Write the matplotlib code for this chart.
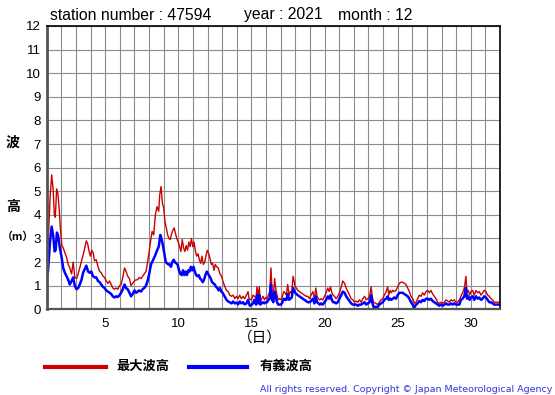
import matplotlib
matplotlib.use("Agg")
import matplotlib.pyplot as plt

# ---------------- data (day of month, metres) ----------------
max_days = [1.00, 1.09, 1.23, 1.34, 1.45, 1.52, 1.59, 1.68, 1.77, 1.86, 1.95, 2.04, 2.13, 2.24, 2.36, 2.47,
            2.58, 2.70, 2.81, 2.92, 3.04, 3.15, 3.26, 3.38, 3.49, 3.60, 3.71, 3.81, 3.90, 3.99, 4.08, 4.17,
            4.28, 4.39, 4.51, 4.62, 4.73, 4.85, 4.96, 5.07, 5.19, 5.30, 5.41, 5.52, 5.64, 5.75, 5.86, 5.98,
            6.09, 6.20, 6.32, 6.43, 6.54, 6.66, 6.77, 6.88, 7.00, 7.11, 7.22, 7.33, 7.45, 7.56, 7.67, 7.79,
            7.90, 8.01, 8.13,
            8.21, 8.32, 8.43, 8.55, 8.66, 8.73, 8.82, 8.91, 9.00, 9.09, 9.18, 9.27, 9.36, 9.45, 9.54, 9.63,
            9.72, 9.81, 9.90, 10.00, 10.09, 10.18, 10.27, 10.36, 10.45, 10.54, 10.63, 10.72, 10.81, 10.90,
            10.99, 11.08, 11.17, 11.26, 11.35, 11.44, 11.53, 11.62, 11.71, 11.81, 11.90, 11.99, 12.08, 12.17,
            12.26, 12.35, 12.44, 12.53, 12.62, 12.73, 12.85, 12.96, 13.07, 13.19, 13.30, 13.41, 13.52, 13.64,
            13.75, 13.86, 13.98, 14.09, 14.20, 14.32, 14.43, 14.54, 14.66, 14.77, 14.84, 15.00, 15.11,
            15.20, 15.32, 15.38, 15.47, 15.54, 15.61, 15.70, 15.79, 15.89, 15.98, 16.07, 16.16, 16.25, 16.34,
            16.41, 16.50, 16.59, 16.66, 16.75, 16.84, 16.94, 17.03, 17.12, 17.21, 17.30, 17.39, 17.48, 17.58,
            17.67, 17.76, 17.85, 17.92, 17.99, 18.08, 18.17, 18.28, 18.40, 18.51, 18.63, 18.74, 18.85, 18.97,
            19.08, 19.20, 19.31, 19.40, 19.49, 19.58, 19.68, 19.77, 19.88, 20.00, 20.11, 20.22, 20.32, 20.41,
            20.50, 20.59, 20.68, 20.79, 20.91, 21.02, 21.14, 21.25, 21.37, 21.48, 21.59, 21.71, 21.82, 21.94,
            22.05, 22.16, 22.28, 22.39, 22.51, 22.62, 22.74, 22.85, 22.96, 23.08, 23.19, 23.26, 23.35,
            23.52, 23.64, 23.75, 23.86, 23.98, 24.09, 24.21, 24.32, 24.39, 24.48, 24.57, 24.66, 24.77, 24.89,
            25.00, 25.12, 25.23, 25.34, 25.46, 25.57, 25.69, 25.80, 25.91, 26.03, 26.14, 26.26, 26.37, 26.48,
            26.60, 26.71, 26.82, 26.94, 27.05, 27.17, 27.28, 27.39, 27.51, 27.62, 27.74, 27.85, 27.96, 28.08,
            28.19, 28.31, 28.42, 28.53, 28.65, 28.76, 28.87, 28.99, 29.10, 29.22, 29.33, 29.44, 29.56, 29.67,
            29.74, 29.83, 29.92, 30.01, 30.13, 30.24, 30.36, 30.47, 30.58, 30.70, 30.81, 30.92, 31.04, 31.15,
            31.27, 31.38, 31.49, 31.61, 31.72, 31.93]
max_wave = [2.3, 2.7, 4.7, 5.7, 5.0, 4.0, 3.9, 5.1, 4.9, 4.2, 3.3, 2.7, 2.6, 2.4, 2.2, 1.9,
            1.75, 1.5, 2.0, 1.35, 1.3, 1.5, 1.75, 2.05, 2.3, 2.6, 2.9, 2.75, 2.45, 2.25, 2.5, 2.4,
            2.05, 2.1, 1.8, 1.6, 1.55, 1.4, 1.35, 1.2, 1.1, 1.2, 1.05, 0.9, 0.85, 0.9, 0.85, 1.0,
            1.05, 1.35, 1.75, 1.6, 1.4, 1.3, 1.0, 1.1, 1.2, 1.25, 1.25, 1.35, 1.3, 1.4, 1.5, 1.6,
            2.0, 2.45, 3.0,
            3.3, 3.15, 4.0, 4.35, 4.15, 4.85, 5.2, 4.5, 4.3, 3.7, 3.45, 3.15, 3.0, 2.95, 3.2, 3.35,
            3.45, 3.2, 3.0, 2.85, 2.65, 2.45, 2.95, 2.6, 2.45, 2.7, 2.5, 2.85, 2.65, 3.0,
            2.65, 2.85, 2.45, 2.25, 2.35, 2.1, 1.95, 2.25, 1.9, 2.0, 2.3, 2.5, 2.35, 2.15,
            1.9, 1.95, 1.65, 1.9, 1.8, 1.75, 1.5, 1.4, 1.15, 0.95, 0.8, 0.75, 0.6, 0.55,
            0.6, 0.45, 0.55, 0.45, 0.6, 0.45, 0.55, 0.45, 0.6, 0.75, 0.45, 0.4, 0.6,
            0.55, 0.45, 0.95, 0.55, 0.95, 0.3, 0.45, 0.55, 0.4, 0.5, 0.45, 0.6, 0.75, 1.75,
            0.7, 0.55, 1.3, 0.9, 0.6, 0.4, 0.45, 0.4, 0.55, 0.75, 0.7, 0.6, 1.05, 0.6,
            0.75, 0.7, 1.4, 1.2, 0.95, 0.9, 0.8, 0.75, 0.7, 0.65, 0.6, 0.55, 0.55, 0.45,
            0.6, 0.75, 0.45, 0.9, 0.55, 0.45, 0.4, 0.45, 0.4, 0.55, 0.7, 0.9, 0.75, 0.95,
            0.7, 0.6, 0.55, 0.45, 0.55, 0.7, 0.95, 1.2, 1.1, 0.9, 0.75, 0.6, 0.45, 0.4,
            0.3, 0.35, 0.3, 0.4, 0.3, 0.45, 0.55, 0.4, 0.45, 0.55, 0.95, 0.55, 0.3,
            0.25, 0.2, 0.3, 0.4, 0.45, 0.6, 0.75, 0.95, 0.6, 0.8, 0.7, 0.8, 0.75, 0.8,
            0.95, 1.1, 1.15, 1.15, 1.1, 1.05, 0.9, 0.75, 0.55, 0.45, 0.25, 0.3, 0.45, 0.6,
            0.55, 0.7, 0.6, 0.75, 0.8, 0.7, 0.8, 0.65, 0.55, 0.45, 0.3, 0.25, 0.3, 0.25,
            0.3, 0.4, 0.35, 0.3, 0.4, 0.35, 0.4, 0.3, 0.3, 0.4, 0.55, 0.7, 0.9, 1.4,
            0.7, 0.8, 0.6, 0.75, 0.8, 0.6, 0.8, 0.7, 0.75, 0.6, 0.7, 0.8, 0.75, 0.6,
            0.55, 0.45, 0.4, 0.3, 0.3, 0.3]

sig_days = [1.00, 1.09, 1.23, 1.34, 1.45, 1.54, 1.61, 1.70, 1.79, 1.90, 2.02, 2.13, 2.24, 2.36, 2.47, 2.58,
            2.70, 2.81, 2.92, 3.04, 3.15, 3.26, 3.38, 3.49, 3.60, 3.71, 3.83, 3.94, 4.05, 4.17, 4.28, 4.39,
            4.51, 4.62, 4.73, 4.85, 4.96, 5.07, 5.19, 5.30, 5.41, 5.52, 5.64, 5.75, 5.86, 5.98, 6.09, 6.20,
            6.32, 6.43, 6.54, 6.66, 6.77, 6.88, 7.00, 7.11, 7.22, 7.33, 7.45, 7.56, 7.67, 7.79, 7.90, 8.01,
            8.13,
            8.21, 8.32, 8.43, 8.55, 8.66, 8.77, 8.86, 8.95, 9.05, 9.14, 9.23, 9.32, 9.41, 9.50, 9.59, 9.68,
            9.77, 9.86, 9.95, 10.05, 10.14, 10.23, 10.32, 10.41, 10.50, 10.59, 10.68, 10.77, 10.86, 10.95,
            11.04, 11.13, 11.22, 11.31, 11.40, 11.49, 11.58, 11.67, 11.76, 11.85, 11.95, 12.04, 12.13, 12.22,
            12.31, 12.40, 12.49, 12.58, 12.67, 12.76, 12.85, 12.94, 13.03, 13.12, 13.21, 13.30, 13.41, 13.52,
            13.64, 13.75, 13.86, 13.98, 14.09, 14.20, 14.32, 14.43, 14.54, 14.66, 14.77, 14.89, 15.00, 15.11,
            15.20, 15.32, 15.38, 15.47, 15.54, 15.61, 15.70, 15.79, 15.89, 15.98, 16.07, 16.16, 16.25, 16.34,
            16.41, 16.50, 16.59, 16.66, 16.75, 16.84, 16.94, 17.03, 17.12, 17.21, 17.30, 17.39, 17.48, 17.58,
            17.67, 17.76, 17.85, 17.92, 17.99, 18.08, 18.17, 18.28, 18.40, 18.51, 18.63, 18.74, 18.85, 18.97,
            19.08, 19.20, 19.31, 19.40, 19.49, 19.58, 19.68, 19.77, 19.88, 20.00, 20.11, 20.22, 20.32, 20.41,
            20.50, 20.59, 20.68, 20.79, 20.91, 21.02, 21.14, 21.25, 21.37, 21.48, 21.59, 21.71, 21.82, 21.94,
            22.05, 22.16, 22.28, 22.39, 22.51, 22.62, 22.74, 22.85, 22.96, 23.08, 23.19, 23.26, 23.35,
            23.52, 23.64, 23.75, 23.86, 23.98, 24.09, 24.21, 24.32, 24.39, 24.48, 24.57, 24.66, 24.77, 24.89,
            25.00, 25.12, 25.23, 25.34, 25.46, 25.57, 25.69, 25.80, 25.91, 26.03, 26.14, 26.26, 26.37, 26.48,
            26.60, 26.71, 26.82, 26.94, 27.05, 27.17, 27.28, 27.39, 27.51, 27.62, 27.74, 27.85, 27.96, 28.08,
            28.19, 28.31, 28.42, 28.53, 28.65, 28.76, 28.87, 28.99, 29.10, 29.22, 29.33, 29.44, 29.56, 29.67,
            29.74, 29.83, 29.92, 30.01, 30.13, 30.24, 30.36, 30.47, 30.58, 30.70, 30.81, 30.92, 31.04, 31.15,
            31.27, 31.38, 31.49, 31.61, 31.72, 31.93]
sig_wave = [1.35, 1.6, 2.9, 3.5, 3.1, 2.45, 2.5, 3.25, 3.1, 2.6, 2.2, 1.75, 1.55, 1.4, 1.25, 1.05,
            1.2, 1.35, 1.0, 0.85, 0.9, 1.05, 1.25, 1.55, 1.7, 1.85, 1.6, 1.55, 1.6, 1.4, 1.35, 1.35,
            1.2, 1.15, 1.05, 0.95, 0.9, 0.8, 0.75, 0.7, 0.65, 0.55, 0.5, 0.55, 0.52, 0.6, 0.7, 0.85,
            1.05, 0.9, 0.85, 0.7, 0.55, 0.65, 0.8, 0.7, 0.75, 0.8, 0.75, 0.85, 0.9, 1.0, 1.2, 1.5,
            1.9,
            2.0, 2.15, 2.3, 2.5, 2.65, 3.15, 2.95, 2.7, 2.35, 2.0, 1.95, 1.9, 1.9, 1.8, 2.0, 2.1,
            2.0, 1.95, 1.9, 1.65, 1.5, 1.45, 1.65, 1.45, 1.6, 1.45, 1.65, 1.6, 1.8, 1.65,
            1.8, 1.6, 1.45, 1.4, 1.45, 1.3, 1.25, 1.15, 1.25, 1.45, 1.6, 1.5, 1.4, 1.3,
            1.15, 1.1, 1.05, 0.95, 0.9, 0.8, 0.9, 0.75, 0.7, 0.6, 0.5, 0.4, 0.33, 0.3,
            0.25, 0.33, 0.25, 0.28, 0.21, 0.33, 0.25, 0.3, 0.21, 0.25, 0.4, 0.15, 0.18, 0.25,
            0.4, 0.2, 0.6, 0.25, 0.6, 0.2, 0.25, 0.3, 0.25, 0.3, 0.3, 0.4, 0.45, 1.05,
            0.4, 0.3, 0.75, 0.55, 0.3, 0.2, 0.2, 0.2, 0.3, 0.45, 0.4, 0.4, 0.65, 0.4,
            0.45, 0.5, 0.9, 0.8, 0.7, 0.65, 0.6, 0.55, 0.5, 0.45, 0.4, 0.35, 0.3, 0.3,
            0.35, 0.45, 0.25, 0.55, 0.3, 0.25, 0.2, 0.25, 0.2, 0.3, 0.4, 0.55, 0.45, 0.6,
            0.4, 0.3, 0.3, 0.25, 0.3, 0.45, 0.6, 0.75, 0.7, 0.55, 0.45, 0.35, 0.25, 0.2,
            0.2, 0.2, 0.15, 0.2, 0.2, 0.25, 0.3, 0.2, 0.25, 0.3, 0.6, 0.3, 0.1,
            0.1, 0.1, 0.2, 0.25, 0.3, 0.4, 0.45, 0.55, 0.4, 0.45, 0.4, 0.45, 0.5, 0.45,
            0.6, 0.7, 0.7, 0.7, 0.65, 0.6, 0.55, 0.45, 0.3, 0.2, 0.07, 0.2, 0.25, 0.35,
            0.3, 0.4, 0.35, 0.45, 0.45, 0.4, 0.45, 0.35, 0.3, 0.25, 0.2, 0.15, 0.2, 0.15,
            0.2, 0.25, 0.2, 0.2, 0.25, 0.2, 0.25, 0.2, 0.2, 0.2, 0.4, 0.45, 0.55, 0.9,
            0.45, 0.55, 0.4, 0.5, 0.55, 0.4, 0.55, 0.45, 0.5, 0.4, 0.45, 0.55, 0.5, 0.4,
            0.3, 0.3, 0.25, 0.2, 0.2, 0.2]

title_station = "station number : 47594"
title_year = "year : 2021"
title_month = "month : 12"
x_ticks = [5, 10, 15, 20, 25, 30]
y_ticks = list(range(0, 13))
legend_labels = ["最大波高", "有義波高"]
copyright_text = "All rights reserved. Copyright © Japan Meteorological Agency"

# ---------------- figure ----------------
W, H = 555, 395
fig = plt.figure(figsize=(W / 100, H / 100), dpi=100)
fig.patch.set_facecolor("white")

def fx(px):
    return px / W

def fy(py):
    return 1 - py / H

left, right, top, bottom = 46.7, 500, 26, 309.3
ax = fig.add_axes([fx(left), fy(bottom), fx(right) - fx(left), fy(top) - fy(bottom)])
ax.set_xlim(1, 32)
ax.set_ylim(0, 12)

ax.set_xticks(range(1, 33))
ax.set_xticklabels([str(d) if d in x_ticks else "" for d in range(1, 33)])
ax.set_yticks(y_ticks)
ax.set_yticklabels([str(v) for v in y_ticks])
ax.tick_params(length=0, labelsize=9.5, pad=4)
ax.tick_params(axis="x", pad=6)
for lab in ax.get_xticklabels() + ax.get_yticklabels():
    lab.set_family("Liberation Sans")

ax.grid(True, color="#8c8c8c", linewidth=0.8)
ax.set_axisbelow(True)

ax.spines["left"].set_color("#555555")
ax.spines["left"].set_linewidth(2.0)
ax.spines["bottom"].set_color("#555555")
ax.spines["bottom"].set_linewidth(1.6)
ax.spines["top"].set_color("black")
ax.spines["top"].set_linewidth(1.2)
ax.spines["right"].set_color("black")
ax.spines["right"].set_linewidth(1.2)

ax.plot(max_days, max_wave, color="#cc0000", linewidth=1.0)
ax.plot(sig_days, sig_wave, color="#0000ff", linewidth=1.8)

# title texts
tkw = dict(fontsize=11.3, family="Liberation Sans", va="center", ha="left", color="black")
fig.text(fx(50), fy(15), title_station, **tkw)
fig.text(fx(244), fy(15), title_year, **tkw)
fig.text(fx(338), fy(15), title_month, **tkw)

# y-axis label (vertical characters)
cjk = ["Noto Sans CJK JP", "DejaVu Sans"]
fig.text(fx(13), fy(143), "波", fontsize=10, family=cjk, weight="bold", ha="center", va="center")
fig.text(fx(13), fy(207), "高", fontsize=10, family=cjk, weight="bold", ha="center", va="center")
fig.text(fx(1.5), fy(237), "（m）", fontsize=7.8, family=cjk, weight="bold", ha="left", va="center")

# x-axis label
fig.text(fx(260), fy(338), "（日）", fontsize=10.5, family=cjk, ha="center", va="center")

# legend
fig.add_artist(plt.Line2D([fx(45), fx(106)], [fy(367), fy(367)], color="#cc0000", linewidth=3))
fig.text(fx(116), fy(366), legend_labels[0], fontsize=9.5, family=cjk, weight="bold", ha="left", va="center")
fig.add_artist(plt.Line2D([fx(189), fx(247)], [fy(367), fy(367)], color="#0000ff", linewidth=3))
fig.text(fx(260), fy(366), legend_labels[1], fontsize=9.5, family=cjk, weight="bold", ha="left", va="center")

# copyright
fig.text(fx(552), fy(390), copyright_text, fontsize=6.8, family="DejaVu Sans", color="#3333dd",
         ha="right", va="center")

fig.savefig("out.png", dpi=100, facecolor="white")
